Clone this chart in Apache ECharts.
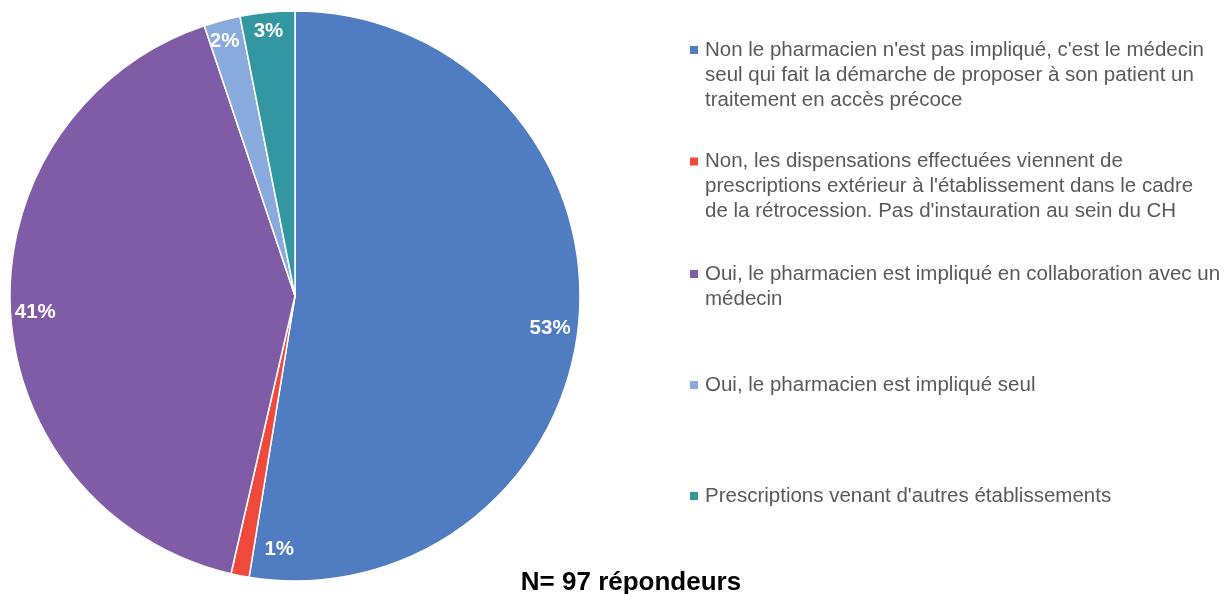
<!DOCTYPE html>
<html>
<head>
<meta charset="utf-8">
<script src="https://cdn.jsdelivr.net/npm/echarts@6/dist/echarts.min.js"></script>
<style>html,body{margin:0;padding:0;background:#fff;}#c{width:1231px;height:594px;}</style>
</head>
<body>
<div id="c"></div>
<script>
const categories = [
  "Non le pharmacien n'est pas impliqué, c'est le médecin seul qui fait la démarche de proposer à son patient un traitement en accès précoce",
  "Non, les dispensations effectuées viennent de prescriptions extérieur à l'établissement dans le cadre de la rétrocession. Pas d'instauration au sein du CH",
  "Oui, le pharmacien est impliqué en collaboration avec un médecin",
  "Oui, le pharmacien est impliqué seul",
  "Prescriptions venant d'autres établissements"
];
const legendLines = [
  ["Non le pharmacien n'est pas impliqué, c'est le médecin", "seul qui fait la démarche de proposer à son patient un", "traitement en accès précoce"],
  ["Non, les dispensations effectuées viennent de", "prescriptions extérieur à l'établissement dans le cadre", "de la rétrocession. Pas d'instauration au sein du CH"],
  ["Oui, le pharmacien est impliqué en collaboration avec un", "médecin"],
  ["Oui, le pharmacien est impliqué seul"],
  ["Prescriptions venant d'autres établissements"]
];
const respondents = [51, 1, 40, 2, 3];
const colors = ['#507CC1', '#EF4A3C', '#805CA7', '#89AADC', '#3297A0'];
const titleText = 'N= 97 répondeurs';

// label nudges (layout only, px)
const labelNudge = [[-7, 11], [35, -5], [3, 4], [-3, 0], [-1, -3]];

const total = respondents.reduce((a, b) => a + b, 0);
const data = categories.map((n, i) => ({ name: n, value: respondents[i], itemStyle: { color: colors[i] } }));
const labelData = categories.map((n, i) => ({ name: n, value: respondents[i] }));

const lh = 25;
const sq = 8;
const iw = 10;
const firstLineCenters = [50, 161.5, 274, 385, 496];
const legends = categories.map((n, i) => {
  const h = legendLines[i].length * lh;
  const y0 = lh / 2 - sq / 2;
  const icon = 'path://M0,0 M0,' + y0 + ' L' + sq + ',' + y0 + ' L' + sq + ',' + (y0 + sq) + ' L0,' + (y0 + sq) + ' Z M' + iw + ',' + h;
  return {
    show: true,
    orient: 'vertical',
    left: 690,
    top: firstLineCenters[i] - lh / 2,
    padding: 0,
    itemWidth: iw,
    itemHeight: h,
    itemGap: 0,
    icon: icon,
    selectedMode: false,
    itemStyle: { borderWidth: 0 },
    data: [n],
    formatter: () => legendLines[i].join('\n'),
    textStyle: { fontFamily: 'Liberation Sans, Arial, sans-serif', fontSize: 20.5, lineHeight: lh, color: '#595959' }
  };
});

const chart = echarts.init(document.getElementById('c'), null, { renderer: 'canvas' });
chart.setOption({
  animation: false,
  backgroundColor: '#fff',
  title: {
    text: titleText,
    left: 626, top: 565, textAlign: 'center',
    textStyle: { fontFamily: 'Liberation Sans, Arial, sans-serif', fontSize: 26, fontWeight: 'bold', color: '#000' }
  },
  legend: legends,
  series: [
    {
      type: 'pie',
      center: [295, 296],
      radius: [0, 285],
      startAngle: 90,
      clockwise: true,
      silent: true,
      label: { show: false },
      labelLine: { show: false },
      itemStyle: { borderColor: '#fff', borderWidth: 1.5 },
      emphasis: { disabled: true },
      data: data
    },
    {
      type: 'pie',
      center: [295, 296],
      radius: [235, 285],
      startAngle: 90,
      clockwise: true,
      silent: true,
      itemStyle: { color: 'rgba(0,0,0,0)', borderWidth: 0 },
      emphasis: { disabled: true },
      label: {
        show: true,
        position: 'inside',
        formatter: p => Math.round(p.value / total * 100) + '%',
        fontFamily: 'Liberation Sans, Arial, sans-serif',
        fontSize: 20.5,
        fontWeight: 'bold',
        color: '#fff'
      },
      labelLine: { show: false },
      labelLayout: p => ({ dx: labelNudge[p.dataIndex][0], dy: labelNudge[p.dataIndex][1] }),
      data: labelData
    }
  ]
});
</script>
</body>
</html>
